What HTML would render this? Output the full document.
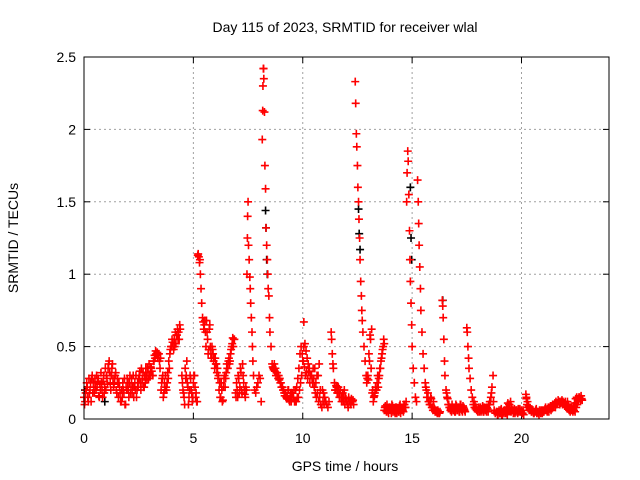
<!DOCTYPE html>
<html><head><meta charset="utf-8">
<style>
body{margin:0;background:#fff;}
svg{display:block;font-family:"Liberation Sans",sans-serif;}
</style></head>
<body>
<svg id="chart" width="640" height="480" viewBox="0 0 640 480">
<rect width="640" height="480" fill="#fff"/>
<text x="345" y="32" font-size="14" text-anchor="middle" fill="#000">Day 115 of 2023, SRMTID for receiver wlal</text>
<text x="345" y="471" font-size="14" text-anchor="middle" fill="#000">GPS time / hours</text>
<text x="0" y="0" font-size="14" text-anchor="middle" fill="#000" transform="translate(18,238) rotate(-90)">SRMTID / TECUs</text>
<g id="grid"></g>
<g id="ticks"></g>
<g id="marksBlack"></g>
<g id="marks"></g>
<rect x="84" y="57" width="525" height="362" fill="none" stroke="#000" stroke-width="1"/>
</svg>
<script>
const xTicks=[0,5,10,15,20];
const yTicks=[0,0.5,1,1.5,2,2.5];
const yTickLabels=["0","0.5","1","1.5","2","2.5"];
const hours=[0,0.05,0.1,0.15,0.2,0.25,0.3,0.35,0.4,0.45,0.5,0.55,0.6,0.65,0.7,0.75,0.8,0.85,0.9,0.95,1.0,1.05,1.1,1.15,1.2,1.25,1.3,1.35,1.4,1.45,1.5,1.55,1.6,1.65,1.7,1.75,1.8,1.85,1.9,1.95,2.0,2.05,2.1,2.15,2.2,2.25,2.3,2.35,2.4,2.45,2.5,2.55,2.6,2.65,2.7,2.75,2.8,2.85,2.9,2.95,3.0,3.05,3.1,3.15,3.2,3.25,3.3,3.35,3.4,3.45,3.5,3.55,3.6,3.65,3.7,3.75,3.8,3.85,3.9,3.95,4.0,4.05,4.1,4.15,4.2,4.25,4.3,4.35,4.4,
4.5,4.55,4.6,4.65,4.7,4.75,4.8,4.85,4.9,4.95,5.0,5.05,5.1,5.15,
5.2,5.22,5.25,5.28,5.3,5.32,5.35,5.38,5.42,5.45,5.5,5.55,5.6,5.65,5.7,5.75,5.8,5.85,5.9,5.95,6.0,6.05,6.1,6.15,6.2,6.25,6.3,6.35,6.4,6.45,6.5,6.55,6.6,6.65,6.7,6.75,6.8,6.85,
6.95,7.0,7.05,7.1,7.15,7.2,7.25,7.3,7.35,7.4,
7.45,7.47,7.48,7.5,7.52,7.55,7.58,7.6,7.62,7.65,7.68,7.7,7.72,7.75,7.8,7.85,7.9,7.95,8.0,8.05,8.1,
8.15,8.17,8.18,8.2,8.21,8.22,8.25,8.27,8.3,8.32,8.35,8.38,8.4,8.42,8.45,8.48,8.5,8.55,8.6,8.65,8.7,8.75,8.8,8.85,8.9,8.95,9.0,9.05,9.1,9.15,9.2,9.25,9.3,9.35,9.4,9.45,9.5,9.55,9.6,9.65,9.7,9.75,9.8,9.85,9.9,9.95,10.0,10.05,10.05,10.1,10.15,10.2,10.25,10.3,10.35,10.4,10.45,10.5,10.55,10.6,10.65,10.7,10.75,10.8,
10.9,10.95,11.0,11.05,11.1,11.15,11.2,11.3,11.32,11.35,11.38,11.4,11.45,11.5,11.55,11.6,11.65,11.7,11.75,11.8,11.85,11.9,11.95,12.0,12.05,12.1,12.15,12.2,12.25,12.3,
12.4,12.42,12.45,12.47,12.5,12.52,12.55,12.57,12.6,12.62,12.65,12.68,12.7,12.72,12.75,12.8,12.85,12.9,12.95,13.0,13.05,13.1,13.15,13.2,13.25,13.3,13.35,13.4,13.45,13.5,13.55,13.6,13.65,13.7,
13.75,13.8,13.85,13.9,13.95,14.0,14.05,14.1,14.15,14.2,14.25,14.3,14.35,14.4,14.45,14.5,14.55,14.6,14.65,14.7,
14.75,14.77,14.8,14.82,14.85,14.88,14.9,14.92,14.95,14.98,15.0,15.05,15.1,15.15,15.2,
15.25,15.28,15.3,15.32,15.35,15.38,15.4,15.45,15.5,15.55,15.6,15.65,15.7,15.75,15.8,15.85,15.9,15.95,16.0,16.05,16.1,16.15,16.2,16.25,
16.38,16.4,16.42,16.45,16.48,16.5,16.55,16.6,16.65,16.7,16.75,16.8,16.85,16.9,16.95,17.0,17.05,17.1,17.15,17.2,17.25,17.3,17.35,17.4,
17.5,17.52,17.55,17.58,17.6,17.65,17.7,17.75,17.8,17.85,17.9,17.95,18.0,18.05,18.1,18.15,18.2,18.25,18.3,18.35,18.4,18.45,18.5,18.55,18.6,18.65,18.7,18.72,18.75,18.8,18.85,
18.9,18.95,19.0,19.05,19.1,19.15,19.2,19.25,19.3,19.35,19.4,19.45,19.5,19.55,19.6,19.65,19.7,19.75,19.8,19.85,19.9,19.95,20.0,20.05,20.1,
20.2,20.22,20.25,20.3,20.35,20.4,20.45,20.5,20.55,20.6,20.65,20.7,20.75,20.8,20.85,20.9,20.95,21.0,21.05,21.1,21.15,21.2,21.25,21.3,21.35,21.4,21.45,21.5,21.55,21.6,21.65,21.7,21.75,21.8,21.85,21.9,21.95,22.0,22.05,22.1,22.15,22.2,22.25,22.3,22.35,22.4,22.45,22.5,22.55,22.6,22.65,22.7,22.75,22.8];
const tec=[0.15,0.12,0.2,0.22,0.12,0.18,0.25,0.28,0.18,0.22,0.28,0.2,0.22,0.28,0.15,0.2,0.25,0.15,0.3,0.22,0.2,0.28,0.35,0.4,0.25,0.3,0.38,0.22,0.28,0.32,0.18,0.25,0.25,0.18,0.12,0.15,0.2,0.28,0.1,0.2,0.25,0.15,0.3,0.22,0.18,0.3,0.22,0.2,0.15,0.25,0.28,0.33,0.2,0.25,0.32,0.22,0.25,0.3,0.35,0.28,0.3,0.36,0.33,0.3,0.4,0.42,0.45,0.46,0.45,0.4,0.42,0.25,0.3,0.18,0.2,0.22,0.25,0.28,0.35,0.48,0.5,0.53,0.48,0.5,0.52,0.58,0.55,0.55,0.62,
0.25,0.18,0.1,0.28,0.4,0.22,0.15,0.3,0.2,0.12,0.25,0.3,0.15,0.12,
1.13,1.14,1.12,1.08,1.1,1.0,0.9,0.8,0.7,0.67,0.65,0.6,0.68,0.55,0.48,0.65,0.45,0.5,0.45,0.42,0.42,0.38,0.35,0.3,0.25,0.15,0.2,0.13,0.28,0.22,0.32,0.35,0.4,0.38,0.45,0.5,0.56,0.55,
0.15,0.2,0.3,0.18,0.35,0.2,0.38,0.25,0.17,0.22,
1.0,1.25,1.4,1.5,1.2,1.1,0.98,0.9,0.8,0.7,0.6,0.5,0.4,0.3,0.2,0.18,0.22,0.25,0.3,0.28,0.12,
1.93,2.13,2.3,2.42,2.42,2.35,2.12,1.75,1.59,1.32,1.2,1.1,1.0,0.9,0.85,0.7,0.6,0.5,0.38,0.35,0.38,0.35,0.32,0.3,0.3,0.28,0.25,0.22,0.2,0.18,0.18,0.15,0.15,0.2,0.12,0.18,0.18,0.15,0.2,0.12,0.12,0.15,0.15,0.2,0.25,0.3,0.4,0.67,0.5,0.52,0.47,0.42,0.38,0.35,0.3,0.3,0.25,0.28,0.35,0.25,0.3,0.3,0.38,0.2,
0.2,0.18,0.15,0.12,0.1,0.08,0.12,0.6,0.55,0.45,0.38,0.35,0.25,0.2,0.22,0.22,0.18,0.2,0.15,0.15,0.12,0.2,0.15,0.12,0.1,0.15,0.12,0.1,0.12,0.13,
2.33,2.18,1.97,1.88,1.75,1.6,1.5,1.38,1.25,1.1,0.95,0.85,0.75,0.68,0.6,0.5,0.4,0.3,0.28,0.27,0.4,0.55,0.62,0.2,0.15,0.18,0.2,0.25,0.22,0.3,0.35,0.42,0.48,0.55,
0.08,0.06,0.1,0.05,0.08,0.07,0.04,0.09,0.06,0.05,0.08,0.04,0.07,0.05,0.1,0.06,0.08,0.05,0.1,0.08,
1.5,1.7,1.85,1.78,1.55,1.3,1.1,0.95,0.8,0.65,0.5,0.35,0.25,0.15,0.12,
1.65,1.5,1.35,1.2,1.05,0.9,0.75,0.6,0.45,0.35,0.25,0.2,0.15,0.12,0.1,0.15,0.08,0.06,0.08,0.05,0.05,0.04,0.05,0.04,
0.82,0.78,0.7,0.55,0.4,0.3,0.2,0.15,0.1,0.08,0.06,0.05,0.08,0.06,0.05,0.1,0.06,0.08,0.05,0.1,0.07,0.05,0.08,0.06,
0.63,0.6,0.5,0.42,0.35,0.28,0.2,0.15,0.1,0.08,0.07,0.06,0.05,0.08,0.06,0.05,0.07,0.05,0.08,0.06,0.05,0.07,0.1,0.12,0.15,0.22,0.3,0.12,0.06,0.04,0.05,
0.03,0.05,0.04,0.06,0.03,0.05,0.04,0.06,0.05,0.03,0.07,0.1,0.12,0.08,0.06,0.05,0.04,0.06,0.05,0.07,0.06,0.05,0.06,0.04,0.03,
0.17,0.14,0.1,0.08,0.06,0.07,0.05,0.06,0.04,0.05,0.06,0.04,0.05,0.03,0.05,0.06,0.04,0.05,0.06,0.08,0.06,0.07,0.05,0.08,0.06,0.09,0.08,0.1,0.08,0.1,0.11,0.12,0.1,0.12,0.13,0.12,0.11,0.12,0.1,0.12,0.1,0.08,0.07,0.06,0.05,0.06,0.05,0.08,0.1,0.12,0.15,0.13,0.14];
const extraHours=[0.025,0.075,0.125,0.175,0.225,0.275,0.325,0.375,0.425,0.475,0.525,0.575,0.625,0.675,0.725,0.775,0.825,0.875,0.925,0.975,1.025,1.075,1.125,1.175,1.225,1.275,1.325,1.375,1.425,1.475,1.525,1.575,1.625,1.675,1.725,1.775,1.825,1.875,1.925,1.975,2.025,2.075,2.125,2.175,2.225,2.275,2.325,2.375,2.425,2.475,2.525,2.575,2.625,2.675,2.725,2.775,2.825,2.875,2.925,2.975,3.025,3.075,3.125,3.175,3.225,3.275,3.325,3.375,3.425,3.475,3.525,3.575,3.625,3.675,3.725,3.775,3.825,3.875,3.925,3.975,4.025,4.075,4.125,4.175,4.225,4.275,4.325,4.375,
4.475,4.525,4.575,4.625,4.675,4.725,4.775,4.825,4.875,4.925,4.975,5.025,5.075,5.125,5.175,
5.475,5.525,5.575,5.625,5.675,5.725,5.775,5.825,5.875,5.925,5.975,6.025,6.075,6.125,6.175,6.225,6.275,6.325,6.375,6.425,6.475,6.525,6.575,6.625,6.675,6.725,6.775,6.825,6.875,
6.925,6.975,7.025,7.075,7.125,7.175,7.225,7.275,7.325,7.375,7.425,
8.625,8.675,8.725,8.775,8.825,8.875,8.925,8.975,9.025,9.075,9.125,9.175,9.225,9.275,9.325,9.375,9.425,9.475,9.525,9.575,9.625,9.675,9.725,9.775,9.825,9.875,9.925,9.975,10.025,10.075,10.125,10.175,10.225,10.275,10.325,10.375,10.425,10.475,10.525,10.575,10.625,10.675,10.725,10.775,10.825,10.875,10.925,10.975,
11.475,11.525,11.575,11.625,11.675,11.725,11.775,11.825,11.875,11.925,11.975,12.025,12.075,12.125,12.175,12.225,12.275,12.325,
12.925,12.975,13.025,13.075,13.125,13.175,13.225,13.275,13.325,13.375,13.425,13.475,13.525,13.575,13.625,13.675,13.725,
13.725,13.775,13.825,13.875,13.925,13.975,14.025,14.075,14.125,14.175,14.225,14.275,14.325,14.375,14.425,14.475,14.525,14.575,14.625,14.675,14.725,
15.625,15.675,15.725,15.775,15.825,15.875,15.925,15.975,16.025,16.075,16.125,16.175,16.225,16.275,
16.575,16.625,16.675,16.725,16.775,16.825,16.875,16.925,16.975,17.025,17.075,17.125,17.175,17.225,17.275,17.325,17.375,17.425,
17.825,17.875,17.925,17.975,18.025,18.075,18.125,18.175,18.225,18.275,18.325,18.375,18.425,18.475,18.525,18.575,18.625,
18.875,18.925,18.975,19.025,19.075,19.125,19.175,19.225,19.275,19.325,19.375,19.425,19.475,19.525,19.575,19.625,19.675,19.725,19.775,19.825,19.875,19.925,19.975,20.025,20.075,
20.225,20.275,20.325,20.375,20.425,20.475,20.525,20.575,20.625,20.675,20.725,20.775,20.825,20.875,20.925,20.975,21.025,21.075,21.125,21.175,21.225,21.275,21.325,21.375,21.425,21.475,21.525,21.575,21.625,21.675,21.725,21.775,21.825,21.875,21.925,21.975,22.025,22.075,22.125,22.175,22.225,22.275,22.325,22.375,22.425,22.475,22.525,22.575,22.625,22.675,22.725,22.775];
const extraTec=[0.1,0.18,0.25,0.15,0.28,0.2,0.12,0.3,0.25,0.18,
0.22,0.3,0.26,0.16,0.24,0.32,0.2,0.26,0.18,0.35,
0.3,0.24,0.38,0.32,0.2,0.35,0.28,0.24,0.3,0.2,
0.28,0.15,0.22,0.12,0.2,0.25,0.18,0.1,0.22,0.28,
0.2,0.25,0.18,0.28,0.22,0.15,0.25,0.3,0.2,0.22,
0.3,0.25,0.35,0.28,0.22,0.3,0.35,0.27,0.32,0.38,
0.3,0.35,0.3,0.4,0.44,0.47,0.44,0.42,0.45,0.35,
0.2,0.28,0.15,0.25,0.3,0.2,0.32,0.4,0.45,0.5,
0.55,0.5,0.55,0.6,0.58,0.62,0.6,0.65,
0.3,0.2,0.15,0.35,0.3,0.25,0.1,0.2,0.28,0.18,0.15,0.3,0.22,0.18,0.12,
0.62,0.68,0.5,0.6,0.45,0.62,0.5,0.42,0.48,0.4,0.35,0.38,0.32,0.28,0.2,0.15,0.25,0.12,0.22,0.3,0.28,0.38,0.35,0.42,0.4,0.48,0.52,0.5,0.55,
0.18,0.25,0.15,0.28,0.22,0.32,0.18,0.3,0.2,0.15,0.2,
0.36,0.34,0.33,0.3,0.32,0.28,0.27,0.25,0.22,0.22,
0.2,0.16,0.18,0.14,0.2,0.13,0.16,0.12,0.18,0.15,
0.12,0.2,0.22,0.28,0.35,0.45,0.5,0.45,0.4,0.36,
0.3,0.32,0.28,0.33,0.25,0.3,0.28,0.35,0.22,0.18,
0.15,0.18,0.12,0.15,0.1,0.08,0.12,0.1,
0.2,0.23,0.18,0.22,0.15,0.2,0.12,0.18,0.15,0.1,0.14,0.12,0.08,0.12,0.1,0.14,0.12,0.1,
0.25,0.3,0.45,0.58,0.35,0.18,0.12,0.16,0.22,0.2,0.3,0.28,0.35,0.4,0.45,0.5,0.52,
0.06,0.09,0.05,0.07,0.04,0.08,0.06,0.1,0.05,0.07,0.04,0.08,0.06,0.05,0.09,0.04,0.07,0.06,0.1,0.08,0.12,
0.22,0.15,0.18,0.12,0.1,0.14,0.08,0.12,0.07,0.06,0.05,0.06,0.04,0.05,
0.18,0.14,0.1,0.08,0.07,0.1,0.06,0.08,0.05,0.09,0.06,0.08,0.05,0.1,0.06,0.09,0.07,0.05,
0.12,0.1,0.08,0.06,0.07,0.05,0.08,0.06,0.09,0.05,0.07,0.06,0.08,0.05,0.1,0.12,0.18,
0.05,0.03,0.06,0.04,0.07,0.03,0.05,0.06,0.04,0.08,0.11,0.1,0.07,0.05,0.06,0.04,0.07,0.05,0.06,0.04,0.05,0.07,0.05,0.04,0.06,
0.15,0.12,0.09,0.07,0.06,0.05,0.06,0.04,0.05,0.07,
0.05,0.04,0.06,0.04,0.05,0.06,0.05,0.07,0.06,0.05,
0.08,0.07,0.09,0.08,0.1,0.09,0.11,0.12,0.11,0.13,
0.12,0.11,0.12,0.1,0.11,0.09,0.1,0.08,0.07,0.06,
0.05,0.07,0.06,0.09,0.11,0.14,0.15,0.13,0.15,0.14,0.16,0.13];
const blackHours=[0.05,0.95,8.3,8.32,8.35,8.38,12.55,12.58,12.62,14.92,14.95,14.98,16.4];
const blackTec=[0.2,0.12,1.44,1.32,1.1,1.0,1.45,1.28,1.17,1.6,1.25,1.1,0.82];

const X0=84,X1=609,Y0=419,Y1=57,XMAX=24,YMAX=2.5;
const xs=v=>X0+(X1-X0)*v/XMAX;
const ys=v=>Y0-(Y0-Y1)*v/YMAX;
const NS="http://www.w3.org/2000/svg";
const grid=document.getElementById('grid'),ticks=document.getElementById('ticks');
function mk(tag,attrs,parent){const e=document.createElementNS(NS,tag);for(const k in attrs)e.setAttribute(k,attrs[k]);parent.appendChild(e);return e;}
xTicks.forEach((t,i)=>{
  const x=xs(t);
  if(t>0){const g=mk('line',{x1:x,x2:x,y1:Y1,y2:Y0,stroke:'#a0a0a0','stroke-dasharray':'2,3','stroke-width':1},grid);
  
  }
  const a=mk('line',{x1:x,x2:x,y1:Y0,y2:Y0-6,stroke:'#000'},ticks);
  
  
  const b=mk('line',{x1:x,x2:x,y1:Y1,y2:Y1+6,stroke:'#000'},ticks);
  
  
  const l=mk('text',{x:x,y:443,'font-size':14,'text-anchor':'middle',fill:'#000'},ticks);
  l.textContent=String(t);
  
  
});
yTicks.forEach((t,i)=>{
  const y=ys(t);
  if(t>0&&t<YMAX){const g=mk('line',{x1:X0,x2:X1,y1:y,y2:y,stroke:'#a0a0a0','stroke-dasharray':'2,3','stroke-width':1},grid);
  
  }
  const a=mk('line',{x1:X0,x2:X0+6,y1:y,y2:y,stroke:'#000'},ticks);
  
  
  const b=mk('line',{x1:X1,x2:X1-6,y1:y,y2:y,stroke:'#000'},ticks);
  
  
  const l=mk('text',{x:X0-8,y:y+5,'font-size':14,'text-anchor':'end',fill:'#000'},ticks);
  l.textContent=yTickLabels[i];
  
  
});
function plus(parent,h,v,color){
  const x=xs(h),y=ys(v);
  const p=mk('path',{d:`M${x-4},${y}H${x+4}M${x},${y-4}V${y+4}`,stroke:color,'stroke-width':1.6,fill:'none'},parent);
  
  
}
const mb=document.getElementById('marksBlack'),mr=document.getElementById('marks');
blackHours.forEach((h,i)=>plus(mb,h,blackTec[i],'#000'));
hours.forEach((h,i)=>plus(mr,h,tec[i],'#ff0000'));
extraHours.forEach((h,i)=>plus(mr,h,extraTec[i],'#ff0000'));
</script>
</body></html>
